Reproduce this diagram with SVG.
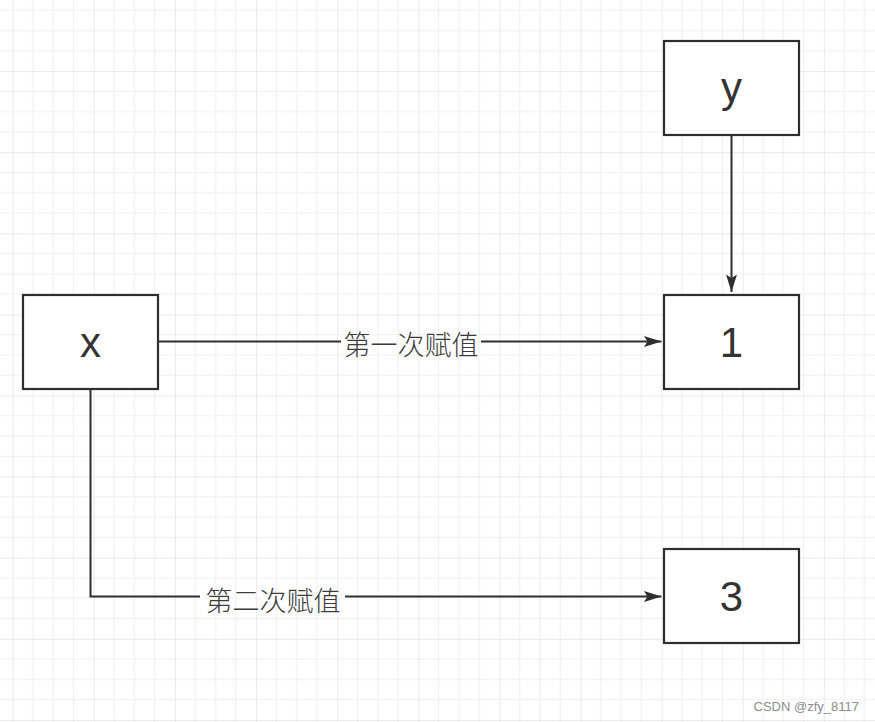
<svg xmlns="http://www.w3.org/2000/svg" width="875" height="722" viewBox="0 0 875 722">
  <style>
    .box { fill: #ffffff; stroke: #2e2e2e; stroke-width: 2.2; }
    .name { font-family: "Liberation Sans", "Noto Sans", sans-serif; font-size: 42px; fill: #333333; text-anchor: middle; }
    .edge { fill: none; stroke: #2e2e2e; stroke-width: 2; }
    .label { font-family: "Noto Sans CJK SC", "Noto Sans", sans-serif; font-size: 27px; font-weight: 300; fill: #3c3c3c; text-anchor: middle; dominant-baseline: central; }
    .mark { font-family: "Liberation Sans", "Noto Sans", sans-serif; font-size: 13px; fill: #8c8c8c; text-anchor: end; }
  </style>
  <defs>
    <pattern id="grid" patternUnits="userSpaceOnUse" x="12.7" y="-10.1" width="81.12" height="81.12">
      <path d="M20.28 0V81.12M40.56 0V81.12M60.84 0V81.12M0 20.28H81.12M0 40.56H81.12M0 60.84H81.12" stroke="#f0f0f0" stroke-width="1.2" fill="none"/>
      <path d="M0 0V81.12M0 0H81.12" stroke="#e4e4e4" stroke-width="1.4" fill="none"/>
    </pattern>
    <marker id="arrow" markerUnits="userSpaceOnUse" markerWidth="20" markerHeight="14" viewBox="-18 -7 20 14" refX="0" refY="0" orient="auto">
      <path d="M0 0L-17.5 -5.5L-14 0L-17.5 5.5Z" fill="#2e2e2e"/>
    </marker>
  </defs>

  <!-- canvas grid -->
  <rect width="875" height="722" fill="#ffffff"/>
  <rect width="875" height="722" fill="url(#grid)"/>

  <!-- connectors -->
  <g id="edges">
    <path class="edge" d="M731.5 135V292" marker-end="url(#arrow)"/>
    <path class="edge" d="M158 341.5H341"/>
    <path class="edge" d="M481 341.5H661.5" marker-end="url(#arrow)"/>
    <text class="label" x="411" y="343">第一次赋值</text>
    <path class="edge" d="M90.5 389V596.5H200"/>
    <path class="edge" d="M345 596.5H661.5" marker-end="url(#arrow)"/>
    <text class="label" x="273" y="599">第二次赋值</text>
  </g>

  <!-- nodes -->
  <g id="node-y">
    <rect class="box" x="664" y="41" width="135" height="94"/>
    <text class="name" x="731.5" y="102">y</text>
  </g>
  <g id="node-x">
    <rect class="box" x="23" y="295" width="135" height="94"/>
    <text class="name" x="90.5" y="357">x</text>
  </g>
  <g id="node-1">
    <rect class="box" x="664" y="295" width="135" height="94"/>
    <text class="name" x="731.5" y="357">1</text>
  </g>
  <g id="node-3">
    <rect class="box" x="664" y="549" width="135" height="94"/>
    <text class="name" x="731.5" y="611">3</text>
  </g>

  <text class="mark" x="859" y="711">CSDN @zfy_8117</text>
</svg>
